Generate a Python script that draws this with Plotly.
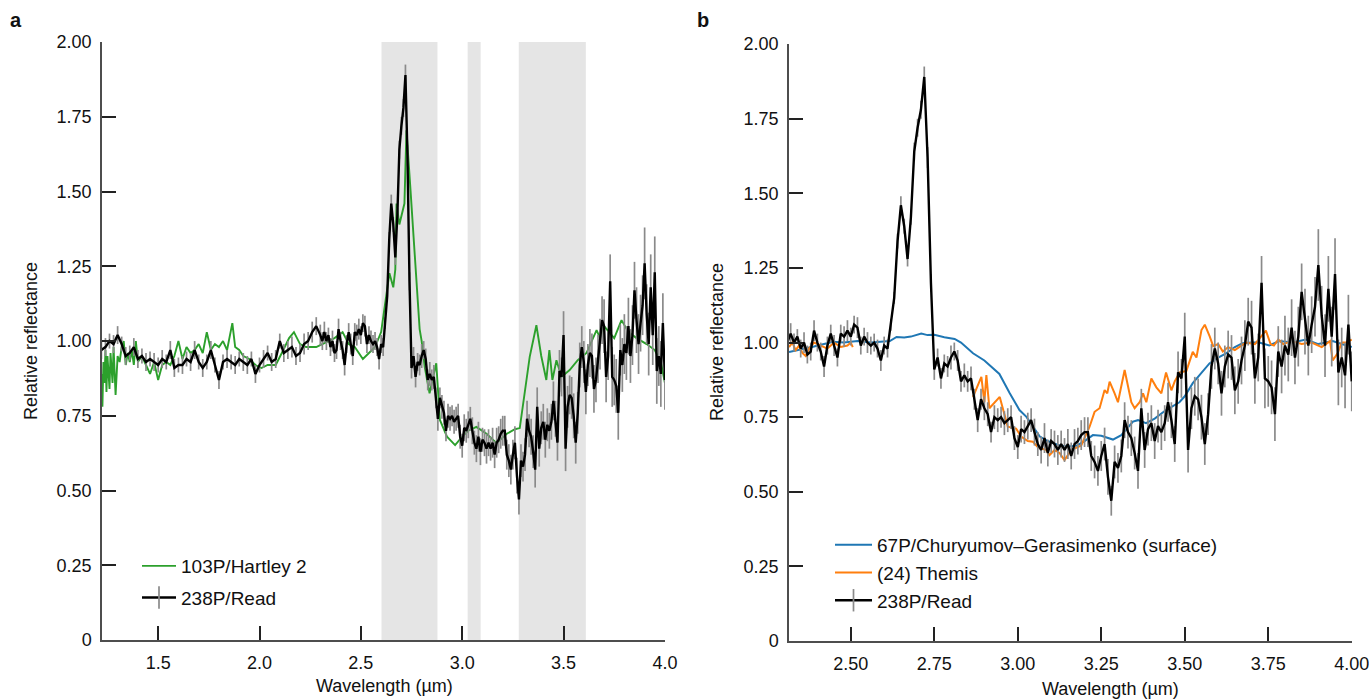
import numpy as np
import plotly.graph_objects as go

# ---------------- data ----------------
# 238P/Read, short-wavelength part (1.22-2.30 um, 0.02 um sampling)
read_start_1, read_step_1 = 1.22, 0.02
read_refl_1 = [
    0.97, 0.98, 1.00, 0.99, 1.02, 0.99, 0.95, 0.96, 0.98, 0.94,
    0.95, 0.93, 0.94, 0.93, 0.92, 0.94, 0.93, 0.97, 0.91, 0.92,
    0.92, 0.94, 0.93, 0.97, 0.93, 0.91, 0.93, 0.97, 0.92, 0.87,
    0.93, 0.94, 0.93, 0.92, 0.94, 0.93, 0.92, 0.94, 0.89, 0.92,
    0.94, 0.96, 0.93, 0.94, 1.00, 0.96, 0.97, 0.98, 0.95, 0.96,
    0.99, 1.00, 1.03, 1.05, 1.02,
]
read_err_1 = [
    0.030, 0.030, 0.025, 0.030, 0.030, 0.025, 0.030, 0.025, 0.030, 0.030,
    0.025, 0.030, 0.025, 0.030, 0.025, 0.030, 0.025, 0.030, 0.030, 0.025,
    0.030, 0.025, 0.030, 0.030, 0.025, 0.030, 0.025, 0.030, 0.025, 0.030,
    0.025, 0.030, 0.025, 0.030, 0.025, 0.030, 0.030, 0.025, 0.030, 0.025,
    0.030, 0.025, 0.030, 0.030, 0.025, 0.030, 0.030, 0.035, 0.030, 0.030,
    0.035, 0.030, 0.035, 0.030, 0.035,
]
# 238P/Read, long-wavelength part (2.31-4.00 um, 0.01 um sampling)
read_start_2, read_step_2 = 2.31, 0.01
read_refl_2 = [
    1.00, 1.03, 1.00, 1.02, 0.98, 1.00, 0.96, 0.97, 1.04, 1.00,
    0.97, 0.92, 0.99, 1.03, 0.99, 0.95, 1.03, 1.02, 1.04, 1.02,
    1.06, 1.05, 0.99, 1.02, 1.00, 0.99, 1.00, 0.98, 0.94, 0.99,
    0.98, 1.06, 1.15, 1.34, 1.46, 1.39, 1.28, 1.42, 1.64, 1.72,
    1.78, 1.89, 1.62, 1.20, 0.91, 0.95, 0.88, 0.93, 0.92, 0.95,
    0.97, 0.94, 0.87, 0.89, 0.87, 0.88, 0.81, 0.74, 0.81, 0.78,
    0.76, 0.70, 0.75, 0.74, 0.75, 0.73, 0.74, 0.75, 0.68, 0.65,
    0.71, 0.70, 0.72, 0.74, 0.70, 0.66, 0.64, 0.68, 0.63, 0.67,
    0.66, 0.64, 0.66, 0.64, 0.66, 0.62, 0.66, 0.67, 0.69, 0.70,
    0.70, 0.62, 0.60, 0.57, 0.62, 0.66, 0.55, 0.47, 0.60, 0.58,
    0.62, 0.74, 0.70, 0.68, 0.63, 0.57, 0.78, 0.64, 0.71, 0.73,
    0.67, 0.72, 0.70, 0.73, 0.80, 0.74, 0.66, 0.90, 0.88, 1.02,
    0.64, 0.78, 0.82, 0.81, 0.75, 0.66, 0.76, 0.92, 0.98, 0.93,
    0.83, 0.92, 0.96, 0.95, 0.84, 0.87, 0.94, 0.99, 1.07, 1.05,
    0.88, 0.95, 1.20, 0.88, 0.87, 0.85, 0.76, 0.97, 0.92, 0.99,
    0.96, 1.05, 0.95, 1.02, 1.17, 1.07, 0.99, 1.06, 1.12, 1.26,
    1.09, 0.99, 1.18, 1.02, 1.23, 0.90, 0.95, 0.89, 1.06, 0.87,
]
read_err_2 = [
    0.030, 0.035, 0.030, 0.025, 0.030, 0.035, 0.030, 0.030, 0.035, 0.030,
    0.030, 0.035, 0.030, 0.030, 0.035, 0.030, 0.030, 0.035, 0.035, 0.030,
    0.030, 0.035, 0.030, 0.030, 0.035, 0.030, 0.030, 0.030, 0.035, 0.030,
    0.030, 0.020, 0.020, 0.025, 0.030, 0.025, 0.025, 0.025, 0.030, 0.030,
    0.030, 0.035, 0.035, 0.030, 0.035, 0.030, 0.035, 0.030, 0.035, 0.040,
    0.030, 0.035, 0.035, 0.040, 0.035, 0.040, 0.035, 0.040, 0.035, 0.040,
    0.040, 0.035, 0.040, 0.040, 0.035, 0.040, 0.040, 0.040, 0.040, 0.040,
    0.045, 0.040, 0.045, 0.040, 0.045, 0.040, 0.045, 0.050, 0.045, 0.040,
    0.045, 0.050, 0.045, 0.040, 0.050, 0.045, 0.050, 0.045, 0.050, 0.050,
    0.050, 0.050, 0.055, 0.050, 0.050, 0.055, 0.060, 0.050, 0.055, 0.050,
    0.055, 0.060, 0.055, 0.060, 0.055, 0.060, 0.065, 0.060, 0.055, 0.060,
    0.060, 0.055, 0.060, 0.060, 0.065, 0.060, 0.060, 0.070, 0.065, 0.080,
    0.075, 0.070, 0.065, 0.070, 0.075, 0.070, 0.070, 0.075, 0.070, 0.070,
    0.075, 0.070, 0.080, 0.075, 0.080, 0.075, 0.080, 0.085, 0.080, 0.090,
    0.085, 0.080, 0.090, 0.100, 0.085, 0.090, 0.090, 0.085, 0.090, 0.100,
    0.090, 0.095, 0.090, 0.100, 0.095, 0.110, 0.100, 0.095, 0.100, 0.120,
    0.100, 0.105, 0.110, 0.100, 0.120, 0.110, 0.100, 0.110, 0.100, 0.100,
]

# 103P/Hartley 2
hartley_wl = [
    1.22, 1.225, 1.23, 1.235, 1.24, 1.245, 1.25, 1.255, 1.26, 1.265,
    1.27, 1.275, 1.28, 1.285, 1.29, 1.30, 1.31, 1.32, 1.33, 1.34,
    1.35, 1.36, 1.37, 1.38, 1.39, 1.40, 1.42, 1.44, 1.46, 1.48,
    1.50, 1.52, 1.54, 1.56, 1.58, 1.60, 1.62, 1.64, 1.66, 1.68,
    1.70, 1.72, 1.74, 1.76, 1.78, 1.80, 1.82, 1.84, 1.866, 1.88,
    1.90, 1.92, 1.95, 1.98, 2.01, 2.04, 2.08, 2.11, 2.146, 2.17,
    2.20, 2.23, 2.28, 2.31, 2.34, 2.37, 2.41, 2.44, 2.47, 2.51,
    2.54, 2.57, 2.60, 2.617, 2.641, 2.66, 2.67, 2.676, 2.69, 2.715,
    2.725, 2.745, 2.773, 2.79, 2.80, 2.815, 2.839, 2.855, 2.872, 2.89,
    2.925, 2.965, 3.00, 3.03, 3.07, 3.12, 3.17, 3.22, 3.26, 3.284,
    3.333, 3.366, 3.39, 3.415, 3.43, 3.445, 3.465, 3.49, 3.53, 3.57,
    3.613, 3.663, 3.68, 3.70, 3.75, 3.786, 3.82, 3.86, 3.91, 3.95,
    3.98, 4.00,
]
hartley_refl = [
    0.89, 0.78, 0.93, 0.86, 0.97, 0.83, 0.95, 0.90, 0.84, 0.96,
    0.91, 0.86, 0.98, 0.90, 0.82, 0.95, 0.93, 0.98, 1.00, 0.92,
    0.96, 0.93, 0.97, 0.92, 1.00, 0.93, 0.95, 0.92, 0.89, 0.93,
    0.87, 0.92, 0.93, 0.92, 0.95, 1.00, 0.94, 0.98, 0.96, 0.97,
    0.99, 0.96, 1.03, 0.97, 0.99, 0.98, 1.00, 0.97, 1.06, 0.98,
    0.97, 0.95, 0.94, 0.92, 0.91, 0.92, 0.92, 0.96, 1.01, 1.03,
    0.99, 0.98, 0.98, 0.99, 1.00, 1.01, 1.03, 0.99, 0.98, 0.94,
    0.96, 0.98, 1.03, 1.115, 1.227, 1.18, 1.24, 1.46, 1.39, 1.46,
    1.705, 1.505, 1.20, 1.04, 1.00, 0.914, 0.825, 0.87, 0.926, 0.736,
    0.68, 0.652, 0.68, 0.70, 0.713, 0.69, 0.658, 0.69, 0.705, 0.709,
    0.947, 1.053, 0.95, 0.87, 0.97, 0.87, 0.936, 0.88, 0.903, 0.936,
    0.96, 1.037, 1.01, 1.05, 1.01, 1.07, 1.03, 1.01, 0.99, 0.97,
    0.93, 0.86,
]

# 67P/Churyumov-Gerasimenko (surface)
cg_wl = [
    2.315, 2.35, 2.387, 2.42, 2.447, 2.48, 2.52, 2.56, 2.59, 2.617,
    2.637, 2.66, 2.68, 2.70, 2.711, 2.73, 2.75, 2.78, 2.811, 2.83,
    2.85, 2.866, 2.90, 2.926, 2.945, 2.976, 3.005, 3.026, 3.045, 3.066,
    3.09, 3.125, 3.15, 3.175, 3.20, 3.225, 3.25, 3.285, 3.31, 3.345,
    3.36, 3.384, 3.41, 3.444, 3.484, 3.50, 3.524, 3.55, 3.574, 3.60,
    3.624, 3.65, 3.673, 3.70, 3.723, 3.753, 3.783, 3.823, 3.863, 3.90,
    3.943, 3.97, 4.00,
]
cg_refl = [
    0.968, 0.978, 0.986, 0.995, 1.003, 1.000, 1.005, 1.000, 1.003, 1.005,
    1.019, 1.017, 1.020, 1.025, 1.030, 1.025, 1.026, 1.018, 1.012, 1.000,
    0.980, 0.964, 0.940, 0.913, 0.895, 0.830, 0.774, 0.751, 0.720, 0.685,
    0.670, 0.655, 0.652, 0.654, 0.670, 0.690, 0.688, 0.675, 0.690, 0.735,
    0.740, 0.730, 0.745, 0.774, 0.800, 0.820, 0.864, 0.900, 0.930, 0.950,
    0.964, 0.985, 0.998, 1.000, 1.000, 0.990, 1.005, 1.000, 1.010, 0.995,
    1.005, 0.995, 0.985,
]

# (24) Themis  (None = no data)
themis_wl = [
    2.315, 2.325, 2.335, 2.345, 2.355, 2.365, 2.375, 2.39, 2.41, 2.43,
    2.45, 2.47, 2.49, 2.50, 2.506, 2.70,
    2.866, 2.891, 2.90, 2.906, 2.915, 2.93, 2.946, 2.96, 2.97, 2.995,
    3.01, 3.03, 3.045, 3.06, 3.085, 3.095, 3.11, 3.125, 3.14, 3.16,
    3.19, 3.215, 3.23, 3.245, 3.26, 3.268, 3.275, 3.29, 3.30, 3.32,
    3.34, 3.35, 3.365, 3.375, 3.385, 3.40, 3.415, 3.43, 3.444, 3.46,
    3.47, 3.485, 3.505, 3.524, 3.535, 3.55, 3.56, 3.575, 3.585, 3.60,
    3.614, 3.63, 3.65, 3.683, 3.71, 3.743, 3.757, 3.767, 3.78, 3.795,
    3.82, 3.85, 3.88, 3.91, 3.935, 3.943, 3.958, 3.97, 3.985, 4.00,
]
themis_refl = [
    0.985, 1.000, 0.975, 0.990, 0.965, 0.955, 0.980, 1.000, 0.990, 0.980,
    1.000, 0.985, 0.990, 1.000, 0.985, None,
    0.818, 0.885, 0.800, 0.891, 0.780, 0.800, 0.818, 0.760, 0.718, 0.712,
    0.685, 0.670, 0.668, 0.650, 0.640, 0.623, 0.640, 0.630, 0.606, 0.640,
    0.655, 0.718, 0.768, 0.780, 0.841, 0.830, 0.869, 0.830, 0.800, 0.908,
    0.800, 0.780, 0.800, 0.830, 0.800, 0.880, 0.850, 0.830, 0.900, 0.840,
    0.870, 0.900, 0.905, 0.969, 0.950, 1.042, 1.060, 1.020, 0.988, 0.995,
    0.970, 0.985, 0.975, 1.000, 0.995, 1.040, 0.995, 0.990, 1.010, 0.995,
    1.005, 0.995, 1.000, 0.985, 1.005, 0.940, 0.965, 1.000, 1.000, 1.010,
]

# masked (shaded) wavelength ranges in panel a
shade_lo = [2.602, 3.027, 3.279]
shade_hi = [2.878, 3.091, 3.610]

y_tickvals = [0, 0.25, 0.50, 0.75, 1.00, 1.25, 1.50, 1.75, 2.00]
y_ticktext = ["0", "0.25", "0.50", "0.75", "1.00", "1.25", "1.50", "1.75", "2.00"]
xa_tickvals = [1.5, 2.0, 2.5, 3.0, 3.5, 4.0]
xb_tickvals = [2.50, 2.75, 3.00, 3.25, 3.50, 3.75, 4.00]

read_wl = np.concatenate([
    read_start_1 + read_step_1 * np.arange(len(read_refl_1)),
    read_start_2 + read_step_2 * np.arange(len(read_refl_2)),
])
read_refl = read_refl_1 + read_refl_2
read_err = read_err_1 + read_err_2

# ---------------- figure ----------------
W, H = 1369, 699
FONT = "Liberation Sans, Arial, Helvetica, sans-serif"
BLACK = "#111111"
GREEN = "#2ca02c"
BLUE = "#1f77b4"
ORANGE = "#ff7f0e"
ERR = "#8a8a8a"
TICK_FS, TITLE_FS, LEG_FS = 18, 18, 19

fig = go.Figure()

def read_trace(xa, ya):
    return go.Scatter(x=read_wl, y=read_refl, mode="lines",
                      line=dict(color="black", width=2.4),
                      error_y=dict(type="data", array=read_err, visible=True,
                                   color=ERR, thickness=1.7, width=0),
                      name="238P/Read", xaxis=xa, yaxis=ya, showlegend=False)

def read_legend_entry(xa, ya, leg, grp):
    # legend-only entry: black line crossed by a grey error bar
    return go.Scatter(x=[None], y=[None], mode="lines+markers",
                      line=dict(color="black", width=2.4),
                      marker=dict(symbol="line-ns-open", size=16, color=ERR,
                                  line=dict(color=ERR, width=1.7)),
                      name="238P/Read", xaxis=xa, yaxis=ya,
                      legend=leg, legendgroup=grp)

# panel a
fig.add_trace(go.Scatter(x=hartley_wl, y=hartley_refl, mode="lines",
                         line=dict(color=GREEN, width=1.9),
                         name="103P/Hartley 2", xaxis="x", yaxis="y",
                         legend="legend", legendgroup="a1"))
fig.add_trace(read_trace("x", "y"))
fig.add_trace(read_legend_entry("x", "y", "legend", "a2"))
# panel b
fig.add_trace(go.Scatter(x=cg_wl, y=cg_refl, mode="lines",
                         line=dict(color=BLUE, width=2),
                         name="67P/Churyumov\u2013Gerasimenko (surface)",
                         xaxis="x2", yaxis="y2", legend="legend2", legendgroup="b1"))
fig.add_trace(go.Scatter(x=themis_wl, y=themis_refl, mode="lines",
                         line=dict(color=ORANGE, width=2), connectgaps=False,
                         name="(24) Themis", xaxis="x2", yaxis="y2",
                         legend="legend2", legendgroup="b2"))
fig.add_trace(read_trace("x2", "y2"))
fig.add_trace(read_legend_entry("x2", "y2", "legend2", "b3"))

for lo, hi in zip(shade_lo, shade_hi):
    fig.add_shape(type="rect", xref="x", yref="y domain", x0=lo, x1=hi, y0=0, y1=1,
                  fillcolor="#e5e5e5", line=dict(width=0), layer="below")

axis_common = dict(
    showgrid=False, zeroline=False, showline=True, linecolor="#4d4d4d", linewidth=1.5,
    ticks="inside", ticklen=14, tickwidth=1.5, tickcolor="#222222",
    tickfont=dict(family=FONT, size=TICK_FS, color=BLACK), automargin=False,
    ticklabeloverflow="allow",
)

def px_x(p):
    return p / W

def px_y(p):
    return 1 - p / H

fig.update_layout(
    template="none",
    width=W, height=H,
    margin=dict(l=0, r=0, t=0, b=0, pad=0, autoexpand=False),
    paper_bgcolor="white", plot_bgcolor="white",
    font=dict(family=FONT, size=TICK_FS, color=BLACK),
    showlegend=True,
    xaxis=dict(axis_common, domain=[px_x(102), px_x(665)], range=[1.223, 4.0005],
               tickvals=xa_tickvals, tickformat=".1f", anchor="y",
               ticklabelstandoff=6),
    yaxis=dict(axis_common, domain=[px_y(640), px_y(42)], range=[0, 2.0005],
               tickvals=y_tickvals, ticktext=y_ticktext, anchor="x",
               ticklabelstandoff=5),
    xaxis2=dict(axis_common, domain=[px_x(789), px_x(1352)], range=[2.315, 4.0008],
                tickvals=xb_tickvals, tickformat=".2f", anchor="y2",
                ticklabelstandoff=6),
    yaxis2=dict(axis_common, domain=[px_y(641), px_y(44)], range=[0, 2.0005],
                tickvals=y_tickvals, ticktext=y_ticktext, anchor="x2",
                ticklabelstandoff=5),
    legend=dict(x=px_x(137), y=px_y(547), xanchor="left", yanchor="top",
                bgcolor="rgba(0,0,0,0)", font=dict(family=FONT, size=LEG_FS, color=BLACK),
                tracegroupgap=4, itemwidth=34),
    legend2=dict(x=px_x(830), y=px_y(526), xanchor="left", yanchor="top",
                 bgcolor="rgba(0,0,0,0)", font=dict(family=FONT, size=LEG_FS, color=BLACK),
                 tracegroupgap=0, itemwidth=37),
)

ann = [
    dict(text="<b>a</b>", x=px_x(16), y=px_y(20), size=20),
    dict(text="<b>b</b>", x=px_x(703), y=px_y(20), size=20),
    dict(text="Relative reflectance", x=px_x(31), y=px_y(341), textangle=-90, size=TITLE_FS),
    dict(text="Relative reflectance", x=px_x(717), y=px_y(342), textangle=-90, size=TITLE_FS),
    dict(text="Wavelength (\u00b5m)", x=px_x(384), y=px_y(686), size=TITLE_FS),
    dict(text="Wavelength (\u00b5m)", x=px_x(1110), y=px_y(689), size=TITLE_FS),
]
for a in ann:
    size = a.pop("size")
    fig.add_annotation(xref="paper", yref="paper", showarrow=False,
                       xanchor="center", yanchor="middle",
                       font=dict(family=FONT, size=size, color=BLACK), **a)

post = ("document.documentElement.style.margin='0';document.body.style.margin='0';"
        "document.body.style.padding='0';document.documentElement.style.overflow='hidden';"
        "var gd=document.getElementById('{plot_id}');gd.style.position='absolute';"
        "gd.style.left='0px';gd.style.top='0px';")
fig.write_html("out.html", post_script=post,
               config={"displayModeBar": False, "responsive": False})
